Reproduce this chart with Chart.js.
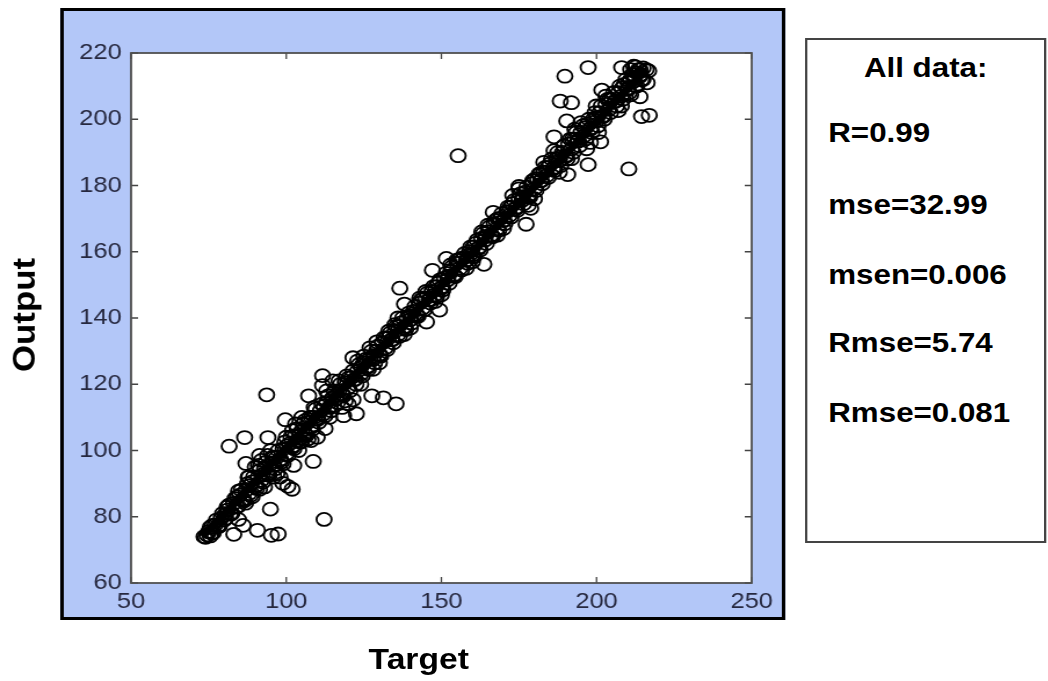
<!DOCTYPE html>
<html>
<head>
<meta charset="utf-8">
<script src="https://cdn.jsdelivr.net/npm/chart.js@4.4.1/dist/chart.umd.min.js"></script>
<style>
html, body { margin: 0; padding: 0; background: #fff; overflow: hidden; }
#stage { position: absolute; left: 0; top: 0; width: 904px; height: 681px;
         transform-origin: 0 0; transform: scaleX(1.16);
         font-family: "Liberation Sans", Arial, sans-serif; }
#frame { position: absolute; left: 52px; top: 8px; width: 625px; height: 612px;
         box-sizing: border-box; border: 3px solid #000; background: #b3c7f8; }
#plot { position: absolute; left: 0; top: 0; }
#stats { position: absolute; left: 694px; top: 38px; width: 208px; height: 505px;
         box-sizing: border-box; border: 2px solid #444; background: #fff; }
.line { position: absolute; font-weight: bold; font-size: 27px; line-height: 27px;
        color: #000; white-space: nowrap; }
.axt { position: absolute; font-weight: bold; font-size: 29px; line-height: 29px;
       color: #000; white-space: nowrap; }
</style>
</head>
<body>
<div id="stage">
  <div id="frame"></div>
  <canvas id="plot" width="904" height="681"></canvas>
  <div id="stats"></div>
  <div id="statText"></div>
  <div class="axt" id="ylab" style="left:21px; top:315px; transform:translate(-50%,-50%) rotate(-90deg) scale(1.2,0.92);"></div>
  <div class="axt" id="xlab" style="left:361px; top:645px; transform:translateX(-50%);"></div>
</div>
<script>
// axis settings
const xTicks = [50, 100, 150, 200, 250];
const yTicks = [60, 80, 100, 120, 140, 160, 180, 200, 220];
const xTitle = 'Target';
const yTitle = 'Output';

// stats panel
const statHeader = 'All data:';
const statLines = ['R=0.99', 'mse=32.99', 'msen=0.006', 'Rmse=5.74', 'Rmse=0.081'];

// fitted line
const fitTarget = [73, 216];
const fitOutput = [74, 215];

// samples: three passes of the dense band, spread near it, then outliers
const target = [
  73.5, 74.5, 75, 76, 77, 78, 79, 80, 81, 82,
  83, 84, 85, 86, 87, 88, 89, 90, 91, 92,
  93, 94, 95, 96, 97, 98, 99, 100, 101, 102,
  103, 104, 105, 106, 107, 108, 109, 110, 111, 112,
  113, 114, 115, 116, 117, 118, 119, 120, 121, 122,
  123, 124, 125, 126, 127, 128, 129, 130, 131, 132,
  133, 134, 135, 136, 137, 138, 139, 140, 141, 142,
  143, 144, 145, 146, 147, 148, 149, 150, 151, 152,
  153, 154, 155, 156, 157, 158, 159, 160, 161, 162,
  163, 164, 165, 166, 167, 168, 169, 170, 171, 172,
  173, 174, 175, 176, 177, 178, 179, 180, 181, 182,
  183, 184, 185, 186, 187, 188, 189, 190, 191, 192,
  193, 194, 195, 196, 197, 198, 199, 200, 201, 202,
  203, 204, 205, 206, 207, 208, 209, 210, 211, 212,
  213, 214, 215, 216, 74, 75.5,

  75.5, 76.5, 77.5, 78.5, 79.5, 80.5, 81.5, 82.5, 83.5, 84.5,
  85.5, 86.5, 87.5, 88.5, 89.5, 90.5, 91.5, 92.5, 93.5, 94.5,
  95.5, 96.5, 97.5, 98.5, 99.5, 100.5, 101.5, 102.5, 103.5, 104.5,
  105.5, 106.5, 107.5, 108.5, 109.5, 110.5, 111.5, 112.5, 113.5, 114.5,
  115.5, 116.5, 117.5, 118.5, 119.5, 120.5, 121.5, 122.5, 123.5, 124.5,
  125.5, 126.5, 127.5, 128.5, 129.5, 130.5, 131.5, 132.5, 133.5, 134.5,
  135.5, 136.5, 137.5, 138.5, 139.5, 140.5, 141.5, 142.5, 143.5, 144.5,
  145.5, 146.5, 147.5, 148.5, 149.5, 150.5, 151.5, 152.5, 153.5, 154.5,
  155.5, 156.5, 157.5, 158.5, 159.5, 160.5, 161.5, 162.5, 163.5, 164.5,
  165.5, 166.5, 167.5, 168.5, 169.5, 170.5, 171.5, 172.5, 173.5, 174.5,
  175.5, 176.5, 177.5, 178.5, 179.5, 180.5, 181.5, 182.5, 183.5, 184.5,
  185.5, 186.5, 187.5, 188.5, 189.5, 190.5, 191.5, 192.5, 193.5, 194.5,
  195.5, 196.5, 197.5, 198.5, 199.5, 200.5, 201.5, 202.5, 203.5, 204.5,
  205.5, 206.5, 207.5, 208.5, 209.5, 210.5, 211.5, 212.5, 213.5, 214.5,

  76.2, 78.2, 80.2, 82.2, 84.2, 86.2, 88.2, 90.2, 92.2, 94.2,
  96.2, 98.2, 100.2, 102.2, 104.2, 106.2, 108.2, 110.2, 112.2, 114.2,
  116.2, 118.2, 120.2, 122.2, 124.2, 126.2, 128.2, 130.2, 132.2, 134.2,
  136.2, 138.2, 140.2, 142.2, 144.2, 146.2, 148.2, 150.2, 152.2, 154.2,
  156.2, 158.2, 160.2, 162.2, 164.2, 166.2, 168.2, 170.2, 172.2, 174.2,
  176.2, 178.2, 180.2, 182.2, 184.2, 186.2, 188.2, 190.2, 192.2, 194.2,
  196.2, 198.2, 200.2, 202.2, 204.2, 206.2, 208.2, 210.2, 212.2, 214.2,

  88, 90, 92, 95, 97, 98, 100, 103, 105, 108,
  110, 113, 115, 118, 120, 123, 125, 128, 130, 133,
  135, 138, 140, 143, 145, 148, 150, 153, 155, 158,
  160, 163, 165, 168, 170, 173, 175, 178, 180, 183,
  188, 193, 198, 203, 208, 212, 213, 214, 215, 211,
  89, 93, 96, 99, 104, 106, 109, 114, 117, 119,
  124, 127, 91, 94, 102, 107,

  155.4, 210.4, 197.3, 189.8, 208.1, 188.3, 191.9, 201.7, 199.9, 190.4,
  195, 186.3, 186.3, 190.7, 197.3, 200.6, 201.3, 196.8, 191.9, 207,
  214.5, 217, 214, 216.3, 216.8, 212.6, 210.4, 211, 177.3, 178.8,
  175, 181.8, 166.7, 163.7, 159.2, 136.6, 138.1, 147.1, 151.6, 145.2,
  149.4, 136, 129.2, 127.6, 131.3, 135.4, 121.5, 118.5, 122.6, 121.5,
  111.7, 111.7, 107.2, 112.5, 108.7, 102.4, 99.7, 105, 98.9, 101.9,
  100.5, 93.7, 94.1, 86.6, 81.6, 87, 91.4, 91.4, 94.9, 112.2,
  86.9, 84.6, 86.1, 83.1, 90.7, 95.2, 97.4, 80.9, 84.6, 87.7
];
const output = [
  74, 74.5, 75.5, 75, 77.5, 77, 79.5, 79, 82, 81,
  84, 83, 86.5, 85, 88, 87, 90.5, 89, 92, 91,
  94.5, 93, 96, 95.5, 98, 97, 100.5, 99, 102, 101,
  104.5, 103, 106, 105, 108.5, 107, 110, 109.5, 112, 111,
  114.5, 113, 116, 115.5, 118, 117, 120.5, 119, 122, 121.5,
  124, 123, 126.5, 125, 128, 127.5, 130, 129, 132.5, 131,
  134, 133.5, 136, 135, 138.5, 137, 140, 139.5, 142, 141,
  144.5, 143, 146, 145.5, 148, 147, 150.5, 149, 152, 151.5,
  154, 153, 156.5, 155, 158, 157.5, 160, 159, 162.5, 161,
  164, 163.5, 166, 165, 168.5, 167, 170, 169.5, 172, 171,
  174.5, 173, 176, 175.5, 178, 177, 180.5, 179, 182, 181.5,
  184, 183, 186.5, 185, 188, 187.5, 190, 189, 192.5, 191,
  194, 193.5, 196, 195, 198.5, 197, 200, 199.5, 202, 201,
  204.5, 203, 206, 205.5, 208, 207, 210.5, 209, 212, 211.5,
  214, 213, 215.5, 215, 73.8, 74.2,

  76.8, 75.2, 79, 77.2, 81, 79.5, 83.5, 81, 85.5, 83.2,
  88, 84.8, 90, 86.5, 92, 88.5, 94, 90.5, 96.5, 92.5,
  98, 94.5, 100, 96.5, 102.5, 98.5, 104, 100.5, 106.5, 102.5,
  108, 104.5, 110, 106.5, 112.5, 108.5, 114, 110.5, 116.5, 112,
  118, 114.5, 120, 116.5, 122.5, 118, 124, 120, 126, 122.5,
  127.5, 124.5, 130, 126.5, 131.5, 128.5, 134, 130.5, 135.5, 132.5,
  137.5, 134.5, 140, 136.5, 141.5, 138.5, 143.5, 140.5, 145.5, 142.5,
  147.5, 144.5, 149.5, 146.5, 151.5, 148.5, 153.5, 150.5, 155.5, 152.5,
  157.5, 154.5, 159.5, 156.5, 161.5, 158.5, 163.5, 160.5, 165.5, 162.5,
  167.5, 164.5, 169.5, 166.5, 171.5, 168.5, 173.5, 170.5, 175.5, 172.5,
  177.5, 174.5, 179.5, 176.5, 181.5, 178.5, 183.5, 180.5, 185.5, 182.5,
  188, 184.5, 190, 186, 192, 188, 194, 190, 196, 192,
  198, 194, 200, 196, 202, 198, 204, 200, 206, 202,
  208, 204, 210, 206, 212, 208, 213.5, 210, 215, 212,

  77.4, 77.4, 80.6, 80.8, 86, 85.4, 89.4, 89.4, 92.6, 92.8,
  98, 97.4, 101.4, 101.4, 104.6, 104.8, 110, 109.4, 113.4, 113.4,
  116.6, 116.8, 122, 121.4, 125.4, 125.4, 128.6, 128.8, 134, 133.4,
  137.4, 137.4, 140.6, 140.8, 146, 145.4, 149.4, 149.4, 152.6, 152.8,
  158, 157.4, 161.4, 161.4, 164.6, 164.8, 170, 169.4, 173.4, 173.4,
  176.6, 176.8, 182, 181.4, 185.4, 185.4, 188.6, 188.8, 194, 193.4,
  197.4, 197.4, 200.6, 200.8, 206, 205.4, 209.4, 209.4, 212.6, 213.5,

  92, 95, 97, 100, 93, 92, 104, 108, 110, 103,
  104, 118, 121, 113, 114, 127, 128.5, 124.5, 126.5, 136,
  138, 135, 137, 146, 148, 145, 147, 156, 157.5, 155,
  157, 166, 168, 165, 167, 177, 179, 174, 176, 187,
  184, 197, 193, 207, 204, 216, 210, 215, 212, 215,
  86, 89, 92, 96, 100, 109, 113, 110, 121, 115,
  120, 131, 95.5, 98.5, 106, 103.5,

  189, 185, 215.6, 213, 215.6, 205.5, 205, 208.8, 204, 199.5,
  199, 194.7, 190.5, 183.3, 186.3, 196, 193.2, 191.1, 188.1, 202.6,
  200.8, 201.2, 206.8, 211, 214.6, 215.8, 211, 207.4, 168.3, 173.1,
  179.7, 183.3, 171.9, 156.2, 159.2, 149, 144.2, 154.4, 158, 138.8,
  142.4, 140, 132.8, 116.5, 115.9, 114.1, 115.3, 110.5, 111.1, 128,
  122.6, 119.6, 116.5, 106.6, 96.7, 95.5, 109.3, 102.7, 90.1, 88.3,
  89.2, 116.8, 103.9, 103.9, 101.3, 96.1, 98.5, 88.3, 82.3, 79.2,
  84.1, 79.2, 77.4, 74.7, 75.9, 74.4, 74.8, 82.9, 87.7, 91.9
];

// text
document.getElementById('xlab').textContent = xTitle;
document.getElementById('ylab').textContent = yTitle;
const statTops = [55, 120, 192, 262, 330, 400];
let statHtml = '<div class="line" style="left:694px; width:208px; text-align:center; top:' + statTops[0] + 'px;">' + statHeader + '</div>';
statLines.forEach((s, i) => {
  statHtml += '<div class="line" style="left:714px; top:' + statTops[i + 1] + 'px;">' + s + '</div>';
});
document.getElementById('statText').innerHTML = statHtml;

// white plot area, box outline and inward ticks on all four sides
const boxPlugin = {
  id: 'boxPlugin',
  beforeDraw(chart) {
    const a = chart.chartArea;
    const c = chart.ctx;
    c.save();
    c.fillStyle = '#fff';
    c.fillRect(a.left, a.top, a.right - a.left, a.bottom - a.top);
    c.restore();
  },
  afterDraw(chart) {
    const a = chart.chartArea;
    const c = chart.ctx;
    const xs = chart.scales.x, ys = chart.scales.y;
    c.save();
    c.strokeStyle = '#444';
    c.lineWidth = 1.3;
    c.beginPath();
    xTicks.forEach(v => {
      const px = xs.getPixelForValue(v);
      c.moveTo(px, a.bottom); c.lineTo(px, a.bottom - 6);
      c.moveTo(px, a.top); c.lineTo(px, a.top + 6);
    });
    yTicks.forEach(v => {
      const py = ys.getPixelForValue(v);
      c.moveTo(a.left, py); c.lineTo(a.left + 6, py);
      c.moveTo(a.right, py); c.lineTo(a.right - 6, py);
    });
    c.stroke();
    c.strokeStyle = '#505050';
    c.lineWidth = 1.8;
    c.strokeRect(a.left, a.top, a.right - a.left, a.bottom - a.top);
    c.restore();
  }
};

const tickFont = { family: '"Liberation Sans", Arial, sans-serif', size: 22 };
const tickColor = '#26283f';

new Chart(document.getElementById('plot').getContext('2d'), {
  type: 'scatter',
  data: {
    datasets: [{
      label: 'Data',
      data: target.map((t, i) => ({ x: t, y: output[i] })),
      pointStyle: 'circle',
      pointRadius: 6.5,
      pointBorderWidth: 1.8,
      borderColor: '#000',
      backgroundColor: 'rgba(0,0,0,0)'
    },
    {
      label: 'Fit',
      data: fitTarget.map((t, i) => ({ x: t, y: fitOutput[i] })),
      showLine: true,
      borderColor: '#000',
      borderWidth: 7,
      pointRadius: 0
    }]
  },
  options: {
    responsive: false,
    animation: false,
    devicePixelRatio: 1,
    layout: { padding: { left: 63, right: 256, top: 53, bottom: 58 } },
    plugins: { legend: { display: false }, tooltip: { enabled: false } },
    scales: {
      x: {
        type: 'linear', min: 50, max: 250,
        afterBuildTicks: s => { s.ticks = xTicks.map(v => ({ value: v })); },
        afterFit: s => { s.height = 40; },
        grid: { display: false, drawTicks: false },
        border: { display: false },
        ticks: { color: tickColor, font: tickFont, padding: 6, maxRotation: 0 }
      },
      y: {
        type: 'linear', min: 60, max: 220,
        afterBuildTicks: s => { s.ticks = yTicks.map(v => ({ value: v })); },
        afterFit: s => { s.width = 50; },
        grid: { display: false, drawTicks: false },
        border: { display: false },
        ticks: { color: tickColor, font: tickFont, padding: 8 }
      }
    }
  },
  plugins: [boxPlugin]
});
</script>
</body>
</html>
